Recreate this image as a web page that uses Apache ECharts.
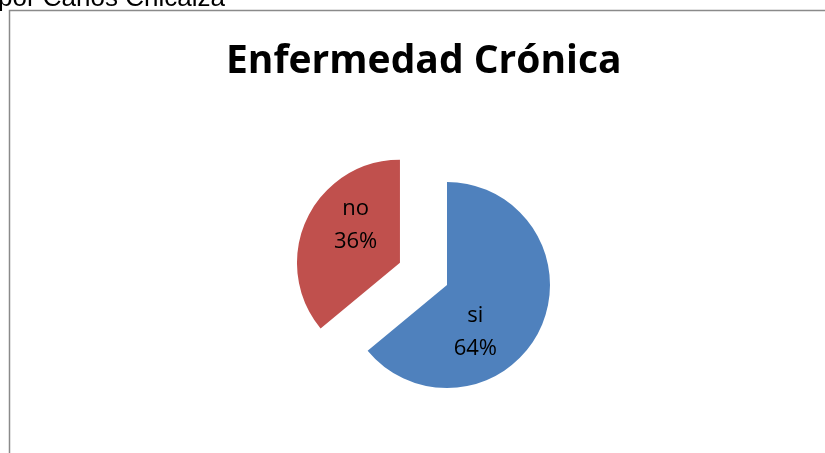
<!DOCTYPE html>
<html>
<head>
<meta charset="utf-8">
<script src="https://cdn.jsdelivr.net/npm/echarts@6/dist/echarts.min.js"></script>
<style>
html,body{margin:0;padding:0;background:#fff;}
#chart{width:825px;height:453px;}
</style>
</head>
<body>
<div id="chart"></div>
<script>
var titleText = 'Enfermedad Crónica';
var captionText = 'por Carlos Chicaiza';
var categories = ['si', 'no'];
var values = [64, 36];
var colors = ['#4F81BD', '#C0504D'];
var labelShift = [[-21, 24], [5, -14]];

var chart = echarts.init(document.getElementById('chart'), null, {renderer: 'canvas'});
var data = categories.map(function (c, i) {
  return {
    name: c,
    value: values[i],
    selected: i === 1,
    itemStyle: {color: colors[i]}
  };
});
chart.setOption({
  animation: false,
  backgroundColor: '#ffffff',
  title: {
    text: titleText,
    left: 221,
    top: 37,
    textStyle: {fontFamily: 'Open Sans', fontWeight: 'bold', fontSize: 39, color: '#000'}
  },
  graphic: [
    {
      type: 'rect', silent: true,
      shape: {x: 9.5, y: 10.5, width: 900, height: 600},
      style: {fill: null, stroke: '#8a8a8a', lineWidth: 1.5}
    },
    {
      type: 'text', left: -2, top: -14, silent: true,
      style: {text: captionText, font: '26px "Liberation Sans"', fill: '#000'}
    }
  ],
  series: [{
    type: 'pie',
    center: [447, 285],
    radius: 103,
    startAngle: 90,
    clockwise: true,
    selectedMode: 'single',
    selectedOffset: 52,
    select: {itemStyle: {}},
    emphasis: {disabled: true},
    data: data,
    label: {
      show: true,
      position: 'inside',
      formatter: function (p) { return p.name + '\n' + Math.round(p.percent) + '%'; },
      fontFamily: 'Open Sans',
      fontSize: 22,
      lineHeight: 33,
      color: '#000'
    },
    labelLayout: function (p) {
      var s = labelShift[p.dataIndex];
      return {dx: s[0], dy: s[1]};
    },
    labelLine: {show: false}
  }]
});
</script>
</body>
</html>
